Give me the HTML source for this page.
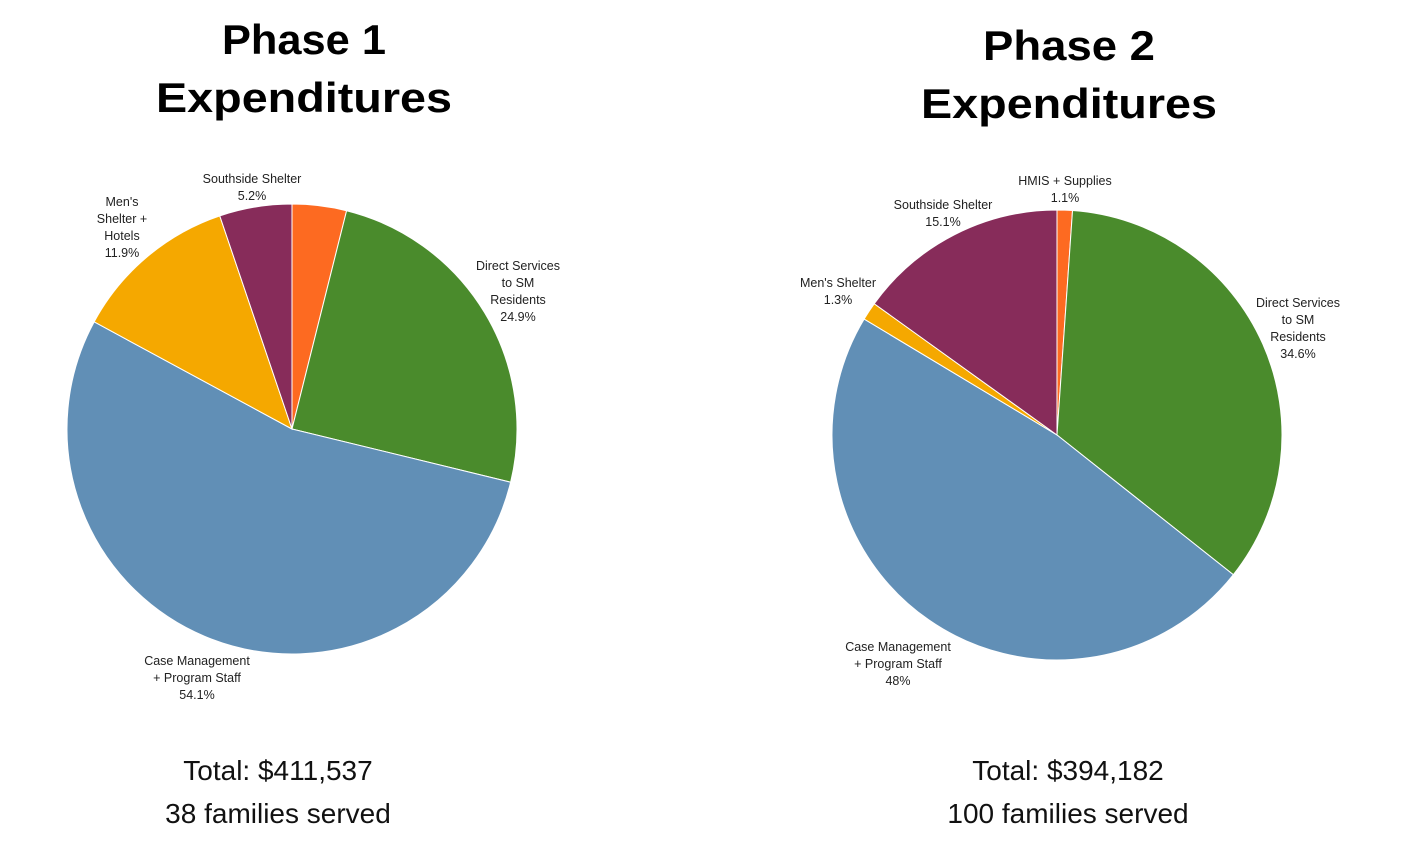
<!DOCTYPE html>
<html><head><meta charset="utf-8"><style>
body{margin:0;background:#fff;width:1408px;height:845px;overflow:hidden;font-family:"Liberation Sans",sans-serif}
svg{display:block}
.t{font-weight:800;font-size:42px;fill:#000;text-anchor:middle}
.b{font-size:28px;fill:#111;text-anchor:middle}
.l{font-size:12.5px;fill:#222;text-anchor:middle}
</style></head><body>
<svg id="c" width="1408" height="845">
<text class="t" x="304" y="54" textLength="164" lengthAdjust="spacingAndGlyphs">Phase 1</text>
<text class="t" x="304" y="112" textLength="296" lengthAdjust="spacingAndGlyphs">Expenditures</text>
<text class="t" x="1069" y="60" textLength="172" lengthAdjust="spacingAndGlyphs">Phase 2</text>
<text class="t" x="1069" y="118" textLength="296" lengthAdjust="spacingAndGlyphs">Expenditures</text>
<text class="b" x="278" y="780">Total: $411,537</text>
<text class="b" x="278" y="823">38 families served</text>
<text class="b" x="1068" y="780">Total: $394,182</text>
<text class="b" x="1068" y="823">100 families served</text>
<g id="p1"></g><g id="p2"></g>
<g id="labels"></g>
</svg>
<script>
const colors = ["#fd6a21","#4a8b2c","#618fb6","#f5a800","#872c5a"];
const phase1Values = [3.9, 24.9, 54.1, 11.9, 5.2];
const phase2Values = [1.1, 34.6, 48, 1.3, 15.1];
const phase1Labels = [null, ["Direct Services","to SM","Residents","24.9%"], ["Case Management","+ Program Staff","54.1%"], ["Men's","Shelter +","Hotels","11.9%"], ["Southside Shelter","5.2%"]];
const phase2Labels = [["HMIS + Supplies","1.1%"], ["Direct Services","to SM","Residents","34.6%"], ["Case Management","+ Program Staff","48%"], ["Men's Shelter","1.3%"], ["Southside Shelter","15.1%"]];
const phase1LabelPos = [null,[518,270],[197,665],[122,206],[252,183]];
const phase2LabelPos = [[1065,185],[1298,307],[898,651],[838,287],[943,209]];
const NS="http://www.w3.org/2000/svg";
function pie(gid, vals, cx, cy, r, name){
  const g=document.getElementById(gid);
  const tot=vals.reduce((a,b)=>a+b,0);
  let a=0;
  vals.forEach((v,i)=>{
    const a0=a/tot*2*Math.PI, a1=(a+v)/tot*2*Math.PI; a+=v;
    const x0=cx+r*Math.sin(a0), y0=cy-r*Math.cos(a0), x1=cx+r*Math.sin(a1), y1=cy-r*Math.cos(a1);
    const p=document.createElementNS(NS,"path");
    p.setAttribute("d",`M${cx},${cy}L${x0},${y0}A${r},${r} 0 ${a1-a0>Math.PI?1:0} 1 ${x1},${y1}Z`);
    p.setAttribute("fill",colors[i]);p.setAttribute("stroke","#fff");p.setAttribute("stroke-width","1");
    
    
    g.appendChild(p);
  });
}
function labels(arr,pos,name){
  const g=document.getElementById("labels");
  arr.forEach((ls,i)=>{ if(!ls) return;
    const t=document.createElementNS(NS,"text");
    t.setAttribute("class","l");
    
    
    ls.forEach((s,j)=>{const sp=document.createElementNS(NS,"tspan");sp.setAttribute("x",pos[i][0]);sp.setAttribute("y",pos[i][1]+j*17);sp.textContent=s;t.appendChild(sp);});
    g.appendChild(t);
  });
}
pie("p1",phase1Values,292,429,225,"phase1");
pie("p2",phase2Values,1057,435,225,"phase2");
labels(phase1Labels,phase1LabelPos,"phase1");
labels(phase2Labels,phase2LabelPos,"phase2");
</script>
</body></html>
